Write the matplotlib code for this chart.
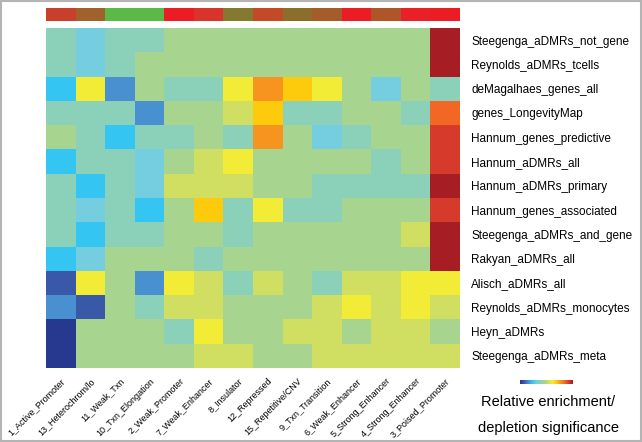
import numpy as np
import matplotlib
matplotlib.use("Agg")
import matplotlib.pyplot as plt
from matplotlib.colors import LinearSegmentedColormap, ListedColormap
from matplotlib.patches import Rectangle

plt.rcParams['font.family'] = ['Liberation Sans', 'DejaVu Sans']

# chromatin states (columns) and their state colours
states = ['1_Active_Promoter', '13_Heterochrom/lo', '11_Weak_Txn', '10_Txn_Elongation',
          '2_Weak_Promoter', '7_Weak_Enhancer', '8_Insulator', '12_Repressed',
          '15_Repetitive/CNV', '9_Txn_Transition', '6_Weak_Enhancer', '5_Strong_Enhancer',
          '4_Strong_Enhancer', '3_Poised_Promoter']
state_colors = ['#c8402b', '#a0612a', '#5bb947', '#5bb947', '#ec1c24', '#d9342a', '#84792f',
                '#c44a27', '#8b6e2a', '#a65c28', '#ec1c24', '#b05527', '#e92027', '#ec1c24']

# gene / aDMR sets (rows)
gene_sets = ['Steegenga_aDMRs_not_gene', 'Reynolds_aDMRs_tcells', 'deMagalhaes_genes_all',
             'genes_LongevityMap', 'Hannum_genes_predictive', 'Hannum_aDMRs_all',
             'Hannum_aDMRs_primary', 'Hannum_genes_associated', 'Steegenga_aDMRs_and_gene',
             'Rakyan_aDMRs_all', 'Alisch_aDMRs_all', 'Reynolds_aDMRs_monocytes',
             'Heyn_aDMRs', 'Steegenga_aDMRs_meta']

# enrichment level per cell (negative = depletion, positive = enrichment)
enrichment = [
    [-1, -2, -1, -1, 0, 0, 0, 0, 0, 0, 0, 0, 0, 7],
    [-1, -2, -1, 0, 0, 0, 0, 0, 0, 0, 0, 0, 0, 7],
    [-3, 2, -4, 0, -1, -1, 2, 4, 3, 2, 0, -2, 0, -1],
    [-1, -1, -1, -4, 0, 0, 1, 3, -1, -1, 0, 0, -1, 5],
    [0, -1, -3, -1, -1, 0, -1, 4, 0, -2, -1, 0, 0, 6],
    [-3, -1, -1, -2, 0, 1, 2, 0, 0, 0, 0, -1, 0, 6],
    [-1, -3, -1, -2, 1, 1, 1, 0, 0, -1, -1, -1, -1, 7],
    [-1, -2, -1, -3, 0, 3, -1, 2, -1, -1, 0, 0, 0, 6],
    [-1, -3, -1, -1, 0, 0, -1, 0, 0, 0, 0, 0, 1, 7],
    [-3, -2, 0, 0, 0, -1, 0, 0, 0, 0, 0, 0, 0, 7],
    [-5, 2, 0, -4, 2, 1, -1, 1, 0, -1, 1, 1, 2, 2],
    [-4, -5, 0, -1, 1, 1, 0, 0, 0, 1, 2, 1, 2, 1],
    [-6, 0, 0, 0, -1, 2, 0, 0, 1, 1, 0, 1, 1, 0],
    [-6, 0, 0, 0, 0, 1, 1, 0, 0, 1, 1, 1, 1, 1],
]

level_colors = ['#27388f', '#3a58a8', '#4890d0', '#35c5f2', '#74cee0', '#8bd0b8', '#a7d48e',
                '#d0de62', '#f3ec37', '#fdca0c', '#f7941f', '#f26723', '#d63a2a', '#a61d23']
vmin, vmax = -6, 7
cmap = LinearSegmentedColormap.from_list('enrich', level_colors, N=(vmax - vmin) * 20 + 1)

data = np.array(enrichment)
nrows, ncols = data.shape

fig = plt.figure(figsize=(6.42, 4.42), dpi=100)

# state colour bar on top
ax_top = fig.add_axes([46 / 642, 1 - 21 / 442, 414 / 642, 13.5 / 442])
ax_top.pcolormesh(np.arange(ncols)[None, :], cmap=ListedColormap(state_colors), vmin=-0.5, vmax=ncols - 0.5)
ax_top.set_axis_off()

# heatmap
ax = fig.add_axes([46 / 642, 1 - 368 / 442, 414 / 642, 340 / 442])
ax.pcolormesh(data, cmap=cmap, vmin=vmin, vmax=vmax)
ax.set_xlim(0, ncols)
ax.set_ylim(nrows, 0)
for s in ax.spines.values():
    s.set_visible(False)
ax.yaxis.tick_right()
ax.set_yticks(np.arange(nrows) + 0.5)
ax.set_yticklabels(gene_sets, fontsize=8.5)
ax.set_xticks(np.arange(ncols) + 0.5)
ax.set_xticklabels(states, rotation=45, ha='right', va='top', rotation_mode='anchor', fontsize=6.5)
ax.tick_params(length=0, pad=8)
ax.tick_params(axis='x', pad=6)

# colour scale
ax_cb = fig.add_axes([520 / 642, 1 - 384 / 442, 53 / 642, 4 / 442])
ax_cb.imshow(np.linspace(vmin, vmax, 200)[None, :], cmap=cmap, aspect='auto', vmin=vmin, vmax=vmax)
ax_cb.set_axis_off()
fig.text(548 / 642, 1 - 402 / 442, 'Relative enrichment/', ha='center', va='center', fontsize=10.5)
fig.text(548 / 642, 1 - 428 / 442, 'depletion significance', ha='center', va='center', fontsize=10.5)

# grey frame around the figure
fig.patches.append(Rectangle((0.002, 0.003), 0.996, 0.994, transform=fig.transFigure,
                             fill=False, edgecolor='#b4b4b4', linewidth=1.5))

fig.savefig('out.png', dpi=100)
